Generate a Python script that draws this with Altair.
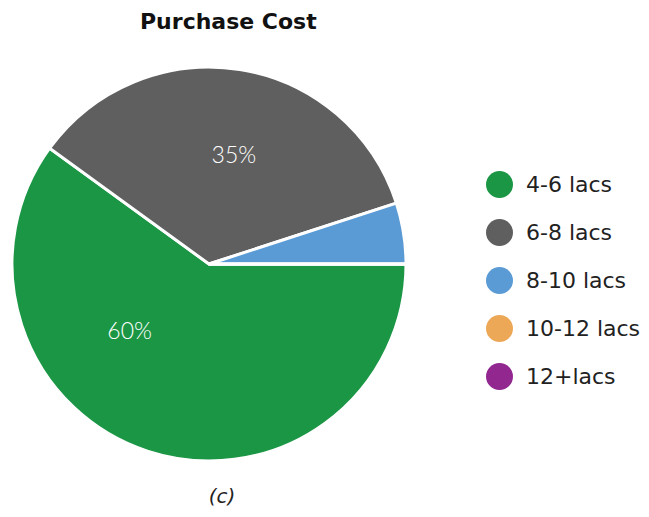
import math
import altair as alt
import pandas as pd

categories = ["4-6 lacs", "6-8 lacs", "8-10 lacs", "10-12 lacs", "12+lacs"]
shares = [60, 35, 5, 0, 0]
labels = ["60%", "35%", "", "", ""]
colors = ["#1b9645", "#5f5f5f", "#5b9bd5", "#eda857", "#92278f"]

df = pd.DataFrame({
    "cat": categories,
    "share": shares,
    "label": labels,
    "idx": list(range(len(categories))),
})

FONT = "DejaVu Sans"
LFONT = "Lato"
TOP = 34
CX, CY, R = 201, 256 - TOP, 197

theta = alt.Theta("share:Q", stack=True,
                  scale=alt.Scale(range=[math.pi / 2, math.pi / 2 + 2 * math.pi]))
color = alt.Color("cat:N", scale=alt.Scale(domain=categories, range=colors),
                  legend=alt.Legend(title=None, orient="none", legendX=478, legendY=163 - TOP,
                                    symbolType="circle", symbolSize=729,
                                    symbolStrokeWidth=0, labelFontSize=22,
                                    labelFont=FONT, labelColor="#222222",
                                    labelLimit=300,
                                    rowPadding=21, labelOffset=13, padding=0))

base = alt.Chart(df).encode(
    theta=theta,
    order=alt.Order("idx:Q"),
    x=alt.value(CX), y=alt.value(CY),
)

arcs = base.mark_arc(outerRadius=R, stroke="white", strokeWidth=3).encode(color=color)

lab60 = base.mark_text(radius=108, dx=-46, dy=-35, color="white", fontSize=23,
                       font=LFONT, fontWeight=300).encode(
    text=alt.condition(alt.datum.label == "60%", "label:N", alt.value("")))
lab35 = base.mark_text(radius=108, dx=8, dy=-1, color="white", fontSize=23,
                       font=LFONT, fontWeight=300).encode(
    text=alt.condition(alt.datum.label == "35%", "label:N", alt.value("")))

caption = alt.Chart(pd.DataFrame({"t": ["(c)"]})).mark_text(
    fontSize=20, font=FONT, fontStyle="italic", fontWeight=300, color="#222222"
).encode(text="t:N", x=alt.value(214), y=alt.value(489 - TOP))

chart = alt.layer(arcs, lab60, lab35, caption).properties(
    width=633, height=467,
    padding={"left": 0, "top": TOP, "right": 0, "bottom": 0},
    autosize=alt.AutoSizeParams(type="none"),
    title=alt.TitleParams("Purchase Cost", fontSize=22, font=FONT, fontWeight="bold",
                          color="#111111", anchor="start", dx=134, offset=8),
).configure_view(stroke=None)

chart.save("out.html", embed_options={"renderer": "svg", "actions": False})
